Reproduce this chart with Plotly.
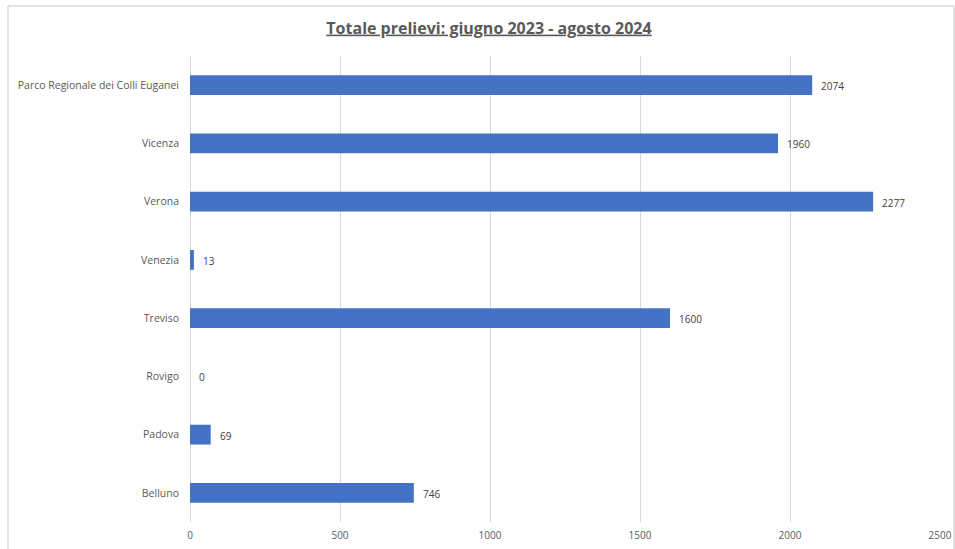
import plotly.graph_objects as go

categories = ["Belluno", "Padova", "Rovigo", "Treviso", "Venezia", "Verona", "Vicenza",
              "Parco Regionale dei Colli Euganei"]
values = [746, 69, 0, 1600, 13, 2277, 1960, 2074]
title_text = "Totale prelievi: giugno 2023 - agosto 2024"

W, H = 955, 549
L, R, T, B = 190, 15, 56, 27

fig = go.Figure(go.Bar(
    y=categories, x=values, orientation="h",
    marker=dict(color="#4472C4", line=dict(width=0)),
    hoverinfo="x+y",
))

for c, v in zip(categories, values):
    fig.add_annotation(x=v, y=c, text=str(v), showarrow=False, xanchor="left",
                       xshift=7, yshift=-1,
                       font=dict(family="Open Sans", size=10, color="#404040"))

grey = "#D9D9D9"
pw, ph = W - L - R, H - T - B
fig.update_layout(
    width=W, height=H,
    margin=dict(l=L, r=R, t=T, b=B, autoexpand=False),
    paper_bgcolor="white", plot_bgcolor="white",
    bargap=0.66,
    showlegend=False,
    title=dict(text="<b><u>" + title_text + "</u></b>", xref="container", x=489 / W,
               xanchor="center", yref="container", y=1 - 28 / H, yanchor="middle",
               font=dict(family="Open Sans", size=16, color="#595959")),
    xaxis=dict(range=[0, 2500], dtick=500, showgrid=True, gridcolor=grey, gridwidth=1,
               zeroline=True, zerolinecolor=grey, zerolinewidth=1, automargin=False,
               showline=False, ticks="", ticklabelstandoff=6,
               tickfont=dict(family="Open Sans", size=10, color="#595959")),
    yaxis=dict(categoryorder="array", categoryarray=categories, showgrid=False,
               zeroline=False, showline=False, ticks="", ticklabelstandoff=10,
               automargin=False,
               tickfont=dict(family="Open Sans", size=10.5, color="#595959")),
    shapes=[
        dict(type="line", xref="paper", yref="paper",
             x0=(8 - L) / pw, x1=(954 - L) / pw,
             y0=1 + (T - 6) / ph, y1=1 + (T - 6) / ph,
             line=dict(color=grey, width=1.5)),
        dict(type="line", xref="paper", yref="paper",
             x0=(8 - L) / pw, x1=(8 - L) / pw,
             y0=1 + (T - 6) / ph, y1=-B / ph,
             line=dict(color=grey, width=1.5)),
        dict(type="line", xref="paper", yref="paper",
             x0=(954 - L) / pw, x1=(954 - L) / pw,
             y0=1 + (T - 6) / ph, y1=-B / ph,
             line=dict(color=grey, width=1.5)),
    ],
)

fig.write_html("out.html", config={"displayModeBar": False},
               post_script="document.documentElement.style.margin='0';"
                           "document.body.style.margin='0';"
                           "document.body.style.overflow='hidden';"
                           "document.documentElement.style.overflow='hidden';")
